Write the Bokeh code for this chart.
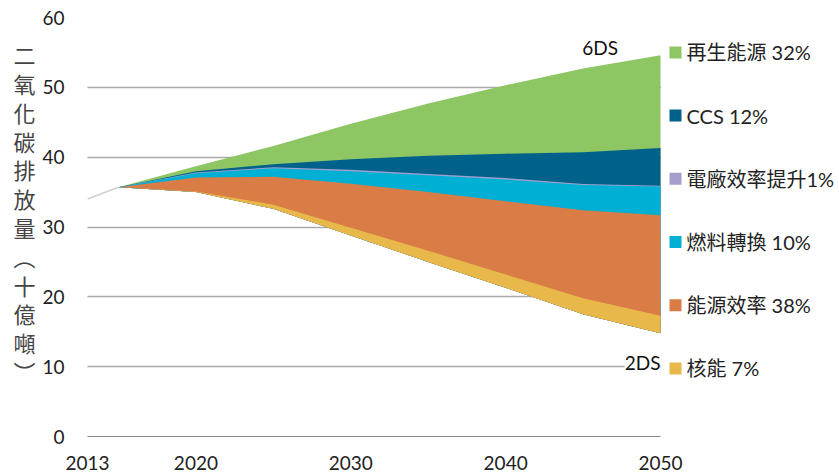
import numpy as np
from bokeh.plotting import figure
from bokeh.models import Range1d, FixedTicker
from bokeh.core.properties import value
from bokeh.embed import file_html
from bokeh.resources import INLINE

# CO2 emissions (Gt): 2DS pathway and the reduction wedges up to the 6DS pathway
years = [2015, 2020, 2025, 2030, 2035, 2040, 2045, 2050]
emissions_2ds = [35.7, 35.0, 32.6, 28.8, 25.0, 21.3, 17.5, 14.8]
nuclear = [0.0, 0.1, 0.6, 1.1, 1.6, 1.9, 2.3, 2.5]
efficiency = [0.0, 2.0, 4.0, 6.3, 8.4, 10.5, 12.6, 14.4]
fuel_switch = [0.0, 0.6, 1.2, 1.8, 2.4, 3.1, 3.6, 4.1]
power_eff = [0.0, 0.1, 0.15, 0.2, 0.2, 0.2, 0.15, 0.1]
ccs = [0.0, 0.2, 0.45, 1.5, 2.6, 3.5, 4.55, 5.4]
renewables = [0.0, 0.7, 2.6, 5.1, 7.5, 9.8, 12.0, 13.3]

hist_years = [2013, 2015]
hist_emissions = [34.0, 35.7]

# stack order, bottom to top
wedges = [nuclear, efficiency, fuel_switch, power_eff, ccs, renewables]
wedge_labels = ["核能 7%", "能源效率 38%", "燃料轉換 10%", "電廠效率提升1%", "CCS 12%", "再生能源 32%"]
wedge_colors = ["#E8B84B", "#D97C45", "#00B0D4", "#A59ECC", "#00628B", "#8DC663"]

x_ticks = [2013, 2020, 2030, 2040, 2050]
y_ticks = [0, 10, 20, 30, 40, 50, 60]
y_title = "二氧化碳排放量︵十億噸︶"

num_font = "Lato"
cjk_font = "Noto Sans CJK TC"

# plot frame: 2013..2050 spans 87..660 px; the frame runs on to the right edge for the legend
px_per_year = (660 - 87) / (2050 - 2013)
x_end = 2013 + (839 - 87) / px_per_year

p = figure(width=839, height=475, output_backend="svg", toolbar_location=None,
           x_range=Range1d(2013, x_end), y_range=Range1d(0, 60),
           min_border_left=87, min_border_right=0, min_border_top=17, min_border_bottom=39)
p.outline_line_color = None
p.background_fill_color = "white"
p.border_fill_color = "white"

for ax, ticks in ((p.xaxis[0], x_ticks), (p.yaxis[0], y_ticks)):
    ax.ticker = FixedTicker(ticks=ticks)
    ax.major_tick_line_color = None
    ax.minor_tick_line_color = None
    ax.major_label_text_font = num_font
    ax.major_label_text_font_size = "19px"
    ax.major_label_text_color = "#222222"
p.yaxis.axis_line_color = None
p.yaxis.major_label_standoff = 17
# the x axis line doubles as the solid zero line, 2013..2050 only
p.xaxis.bounds = (x_ticks[0], x_ticks[-1])
p.xaxis.axis_line_color = "#8a8a8a"
p.xaxis.axis_line_width = 1
p.xaxis.major_label_standoff = 13

# vertical axis title, one upright character per row
p.yaxis.axis_label = "\n".join(y_title) + "\n "
p.yaxis.axis_label_orientation = "horizontal"
p.yaxis.axis_label_text_font = cjk_font
p.yaxis.axis_label_text_font_size = "22px"
p.yaxis.axis_label_text_font_style = "normal"
p.yaxis.axis_label_text_color = "#444444"
p.yaxis.axis_label_text_line_height = 0.9
p.yaxis.axis_label_standoff = 4

# dotted horizontal guides above zero, limited to 2013..2050
p.xgrid.visible = False
grid = p.ygrid[0]
grid.ticker = FixedTicker(ticks=[t for t in y_ticks if t > 0])
grid.grid_line_color = "#555555"
grid.grid_line_width = 1.5
grid.grid_line_dash = "1 1"
if "cross_bounds" in grid.properties():
    grid.cross_bounds = (x_ticks[0], x_ticks[-1])

# historical emissions
p.line(hist_years, hist_emissions, line_color="#cfcfcf", line_width=1.5)

# wedges: each filled from the 2DS line up to its cumulative top, topmost first
base = np.array(emissions_2ds)
tops = base + np.cumsum(np.array(wedges), axis=0)
for top, color in reversed(list(zip(tops, wedge_colors))):
    p.varea(x=years, y1=base, y2=top, fill_color=color)

# scenario labels
p.text(x=[2046.1], y=[55.7], text=["6DS"], text_align="center", text_baseline="middle",
       text_font=value(num_font), text_font_size="19px", text_color="#111111")
p.text(x=[2050], y=[10.6], text=["2DS"], text_align="right", text_baseline="middle",
       text_font=value(num_font), text_font_size="19px", text_color="#111111",
       background_fill_color="white")

# legend, top row = top wedge
legend_x = 2013 + (675 - 87) / px_per_year
legend_text_x = 2013 + (686 - 87) / px_per_year
legend_y = [55.0 - 9.05 * i for i in range(len(wedges))]
p.scatter(x=[legend_x] * len(wedges), y=legend_y, marker="square", size=12,
          fill_color=list(reversed(wedge_colors)), line_color=None)
p.text(x=[legend_text_x] * len(wedges), y=legend_y, text=list(reversed(wedge_labels)),
       text_align="left", text_baseline="middle", text_font_size="20px",
       text_font=value(f"{num_font}, {cjk_font}"), text_color="#222222")

open("out.html", "w").write(file_html(p, INLINE))
